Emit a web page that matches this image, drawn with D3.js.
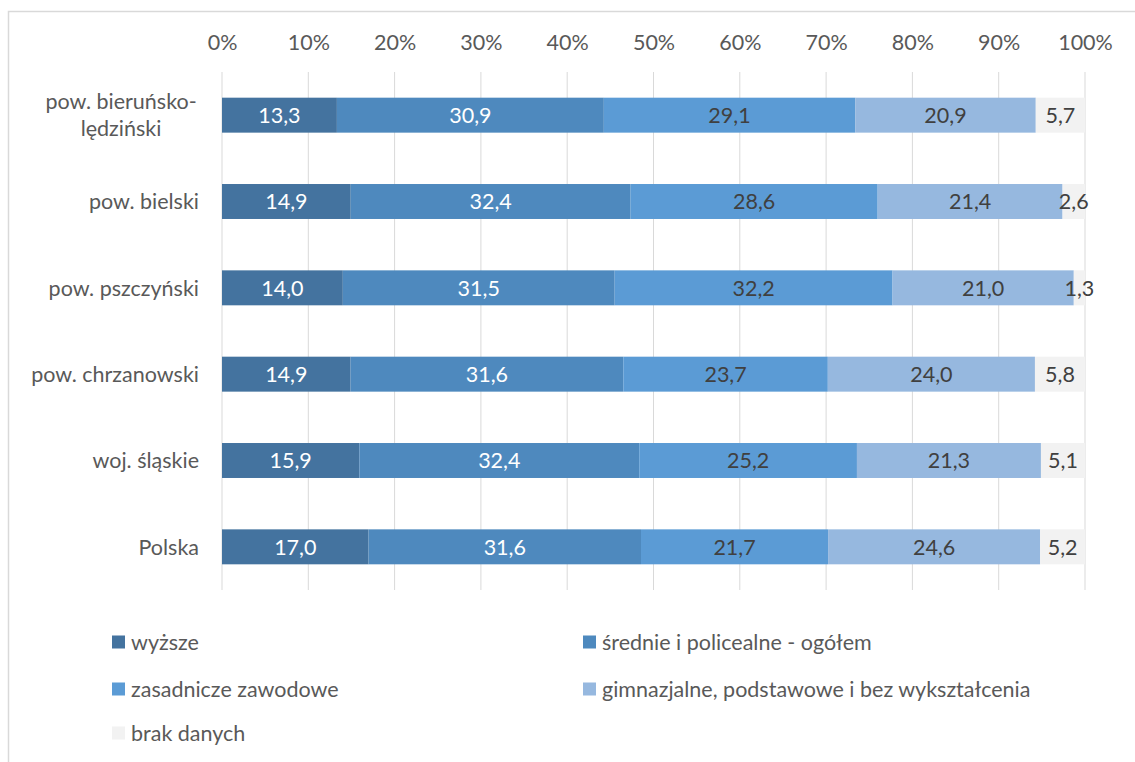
<!DOCTYPE html>
<html><head><meta charset="utf-8">
<script src="https://cdn.jsdelivr.net/npm/d3@7"></script>
<style>body{margin:0;background:#fff}svg{display:block;font-family:Lato,"Open Sans",sans-serif}</style>
</head><body><svg id="c" width="1135" height="762"></svg>
<script>
const categories = [["pow. bieruńsko-","lędziński"],["pow. bielski"],["pow. pszczyński"],["pow. chrzanowski"],["woj. śląskie"],["Polska"]];
const seriesNames = ["wyższe","średnie i policealne - ogółem","zasadnicze zawodowe","gimnazjalne, podstawowe i bez wykształcenia","brak danych"];
const wyzsze =      [13.3,14.9,14.0,14.9,15.9,17.0];
const srednie =     [30.9,32.4,31.5,31.6,32.4,31.6];
const zasadnicze =  [29.1,28.6,32.2,23.7,25.2,21.7];
const gimnazjalne = [20.9,21.4,21.0,24.0,21.3,24.6];
const brak =        [5.7,2.6,1.3,5.8,5.1,5.2];
const tickValues = [0,0.1,0.2,0.3,0.4,0.5,0.6,0.7,0.8,0.9,1.0];
const colors = ["#44739F","#4E89BE","#5B9BD5","#96B8DF","#F2F2F2"];
const labelColors = ["#ffffff","#ffffff","#404040","#404040","#404040"];

const series = [wyzsze,srednie,zasadnicze,gimnazjalne,brak];
const FS = "21.5px";
const svg = d3.select("#c");
svg.append("rect").attr("x",8.5).attr("y",11.5).attr("width",1140).attr("height",760)
  .attr("fill","none").attr("stroke","#D9D9D9").attr("stroke-width",1.5);

const x = d3.scaleLinear().domain([0,1]).range([222,1085]);
const y = d3.scaleBand().domain(d3.range(categories.length)).range([72,590]).paddingInner(0.595).paddingOuter(0.2975);

// gridlines
svg.append("g").selectAll("line").data(tickValues).join("line")
  .attr("x1",d=>x(d)).attr("x2",d=>x(d)).attr("y1",72).attr("y2",590)
  .attr("stroke","#D9D9D9").attr("stroke-width",1);

// top axis labels
const ax = svg.append("g").attr("transform","translate(0,42)")
  .call(d3.axisTop(x).tickValues(tickValues).tickFormat(d3.format(".0%")).tickSize(0).tickPadding(0));
ax.select(".domain").remove();
ax.selectAll("text").attr("y",0).attr("dy","0.36em").attr("fill","#595959").style("font-size",FS).style("font-family","Lato,'Open Sans',sans-serif");

// stacked data
const rows = categories.map((c,i)=>{
  const vals = series.map(s=>s[i]);
  const tot = d3.sum(vals);
  let acc = 0;
  return vals.map((v,k)=>{const s0=acc/tot; acc+=v; return {i,k,v,x0:s0,x1:acc/tot};});
});
const segs = rows.flat();

svg.append("g").selectAll("rect").data(segs).join("rect")
  .attr("x",d=>x(d.x0)).attr("width",d=>x(d.x1)-x(d.x0))
  .attr("y",d=>y(d.i)).attr("height",y.bandwidth())
  .attr("fill",d=>colors[d.k]);

svg.append("g").selectAll("text").data(segs).join("text")
  .attr("x",d=>(x(d.x0)+x(d.x1))/2).attr("y",d=>y(d.i)+y.bandwidth()/2)
  .attr("dy","0.36em").attr("text-anchor","middle")
  .attr("fill",d=>labelColors[d.k]).style("font-size",FS)
  .text(d=>d3.format(".1f")(d.v).replace(".",","));

// category labels
const cl = svg.append("g").selectAll("text").data(categories).join("text")
  .attr("fill","#595959").style("font-size",FS);
cl.each(function(lines,i){
  const t = d3.select(this);
  const cy = y(i)+y.bandwidth()/2;
  if(lines.length===1){
    t.attr("x",199).attr("y",cy).attr("dy","0.36em").attr("text-anchor","end").text(lines[0]);
  } else {
    t.attr("text-anchor","middle");
    lines.forEach((ln,j)=>{
      t.append("tspan").attr("x",121).attr("y",cy+(j-(lines.length-1)/2)*27).attr("dy","0.36em").text(ln);
    });
  }
});

// legend
const legPos = [[112,642],[583,642],[112,689],[583,689],[112,733]];
const lg = svg.append("g").selectAll("g").data(seriesNames).join("g")
  .attr("transform",(d,i)=>`translate(${legPos[i][0]},${legPos[i][1]})`);
lg.append("rect").attr("x",0).attr("y",-6.5).attr("width",13).attr("height",13).attr("fill",(d,i)=>colors[i]);
lg.append("text").attr("x",19).attr("dy","0.36em").attr("fill","#595959").style("font-size",FS).text(d=>d);
</script></body></html>
